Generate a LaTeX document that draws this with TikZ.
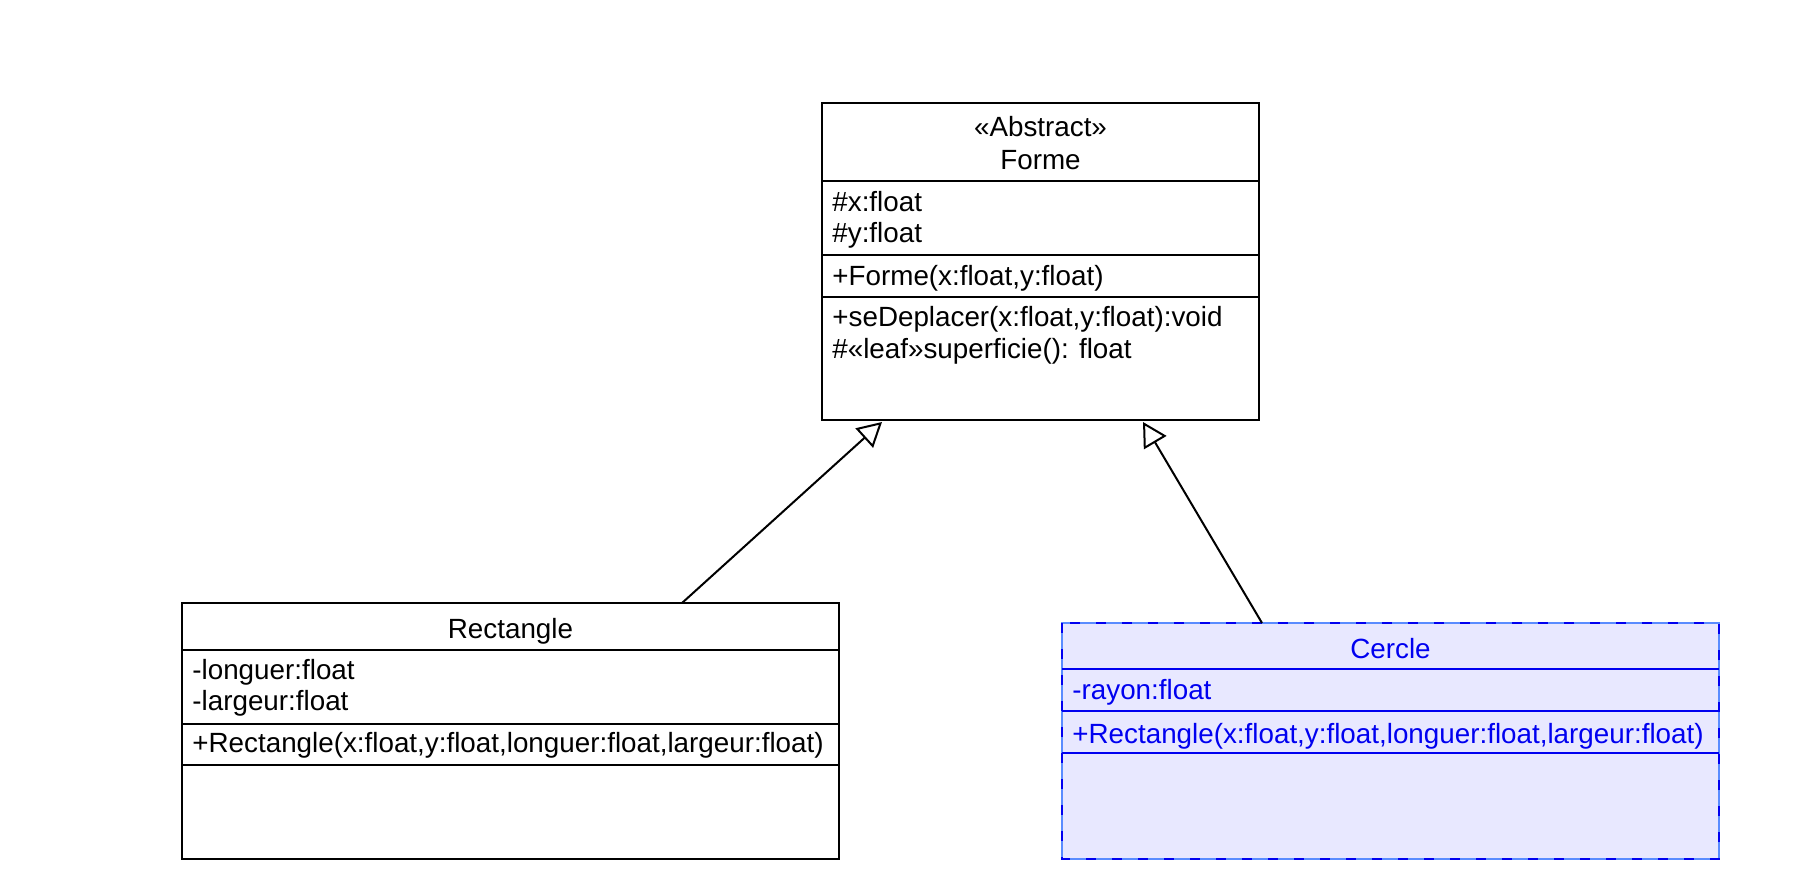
\documentclass[tikz,border=0pt]{standalone}
\usepackage{fontspec}
\setmainfont{Liberation Sans}
\usetikzlibrary{arrows.meta}
\definecolor{cfill}{HTML}{E8E8FF}
\definecolor{cblue}{HTML}{0000F0}
\definecolor{clight}{HTML}{5A8CFF}
\tikzset{
  box/.style={draw, line width=1pt, inner sep=0pt, outer sep=0pt, anchor=north west},
  cbox/.style={fill=cfill, draw=clight, line width=1.4pt, inner sep=0pt, outer sep=0pt, anchor=north west},
  sep/.style={line width=1pt},
  csep/.style={line width=1pt, draw=cblue},
  txt/.style={anchor=base west, inner sep=0pt, font=\fontsize{13.9}{16}\selectfont},
  ttl/.style={anchor=base, inner sep=0pt, font=\fontsize{13.9}{16}\selectfont},
  inh/.style={line width=1pt, -{Triangle[open, length=12pt, width=13pt, line width=1pt]}},
}
\begin{document}
\begin{tikzpicture}[x=0.5pt,y=-0.5pt]
\useasboundingbox (0,0) rectangle (1804,895);
% Forme
\node[box, minimum width=218.5pt, minimum height=158.5pt] (forme) at (822,103) {};
\draw[sep] (822,181) -- (1259,181);
\draw[sep] (822,255) -- (1259,255);
\draw[sep] (822,297) -- (1259,297);
\node[ttl] (f0) at (1040.5,136.7) {«Abstract»};
\node[ttl] (f1) at (1040.5,169.3) {Forme};
\node[txt] (f2) at (832,211.7) {\#x:float};
\node[txt] (f3) at (832,242.7) {\#y:float};
\node[txt] (f4) at (832,285) {+Forme(x:float,y:float)};
\node[txt] (f5) at (832,326.7) {+seDeplacer(x:float,y:float):void};
\node[txt] (f6) at (832,358.3) {\#«leaf»superficie(): float};
% Rectangle
\node[box, minimum width=328.5pt, minimum height=128pt] (rect) at (182,603) {};
\draw[sep] (182,650) -- (839,650);
\draw[sep] (182,724) -- (839,724);
\draw[sep] (182,765) -- (839,765);
\node[ttl] (r0) at (510.5,638.3) {Rectangle};
\node[txt] (r1) at (192,679.3) {-longuer:float};
\node[txt] (r2) at (192,710) {-largeur:float};
\node[txt] (r3) at (192,752.7) {+Rectangle(x:float,y:float,longuer:float,largeur:float)};
% Cercle
\node[cbox, minimum width=328.5pt, minimum height=118pt] (cer) at (1062,623) {};
\draw[line width=1.4pt, draw=cblue, dash pattern=on 5pt off 8pt] (cer.north west) rectangle (cer.south east);
\draw[csep] (1062,669) -- (1719,669);
\draw[csep] (1062,711) -- (1719,711);
\draw[csep] (1062,753) -- (1719,753);
\node[ttl, text=cblue] (c0) at (1390.5,658.3) {Cercle};
\node[txt, text=cblue] (c1) at (1072,699.3) {-rayon:float};
\node[txt, text=cblue] (c2) at (1072,743.3) {+Rectangle(x:float,y:float,longuer:float,largeur:float)};
% inheritance
\draw[inh] ([xshift=85.75pt]rect.north) -- ([xshift=-79.25pt, yshift=-1pt]forme.south);
\draw[inh] ([xshift=-64.25pt]cer.north) -- ([xshift=51.25pt, yshift=-1pt]forme.south);
\end{tikzpicture}
\end{document}
